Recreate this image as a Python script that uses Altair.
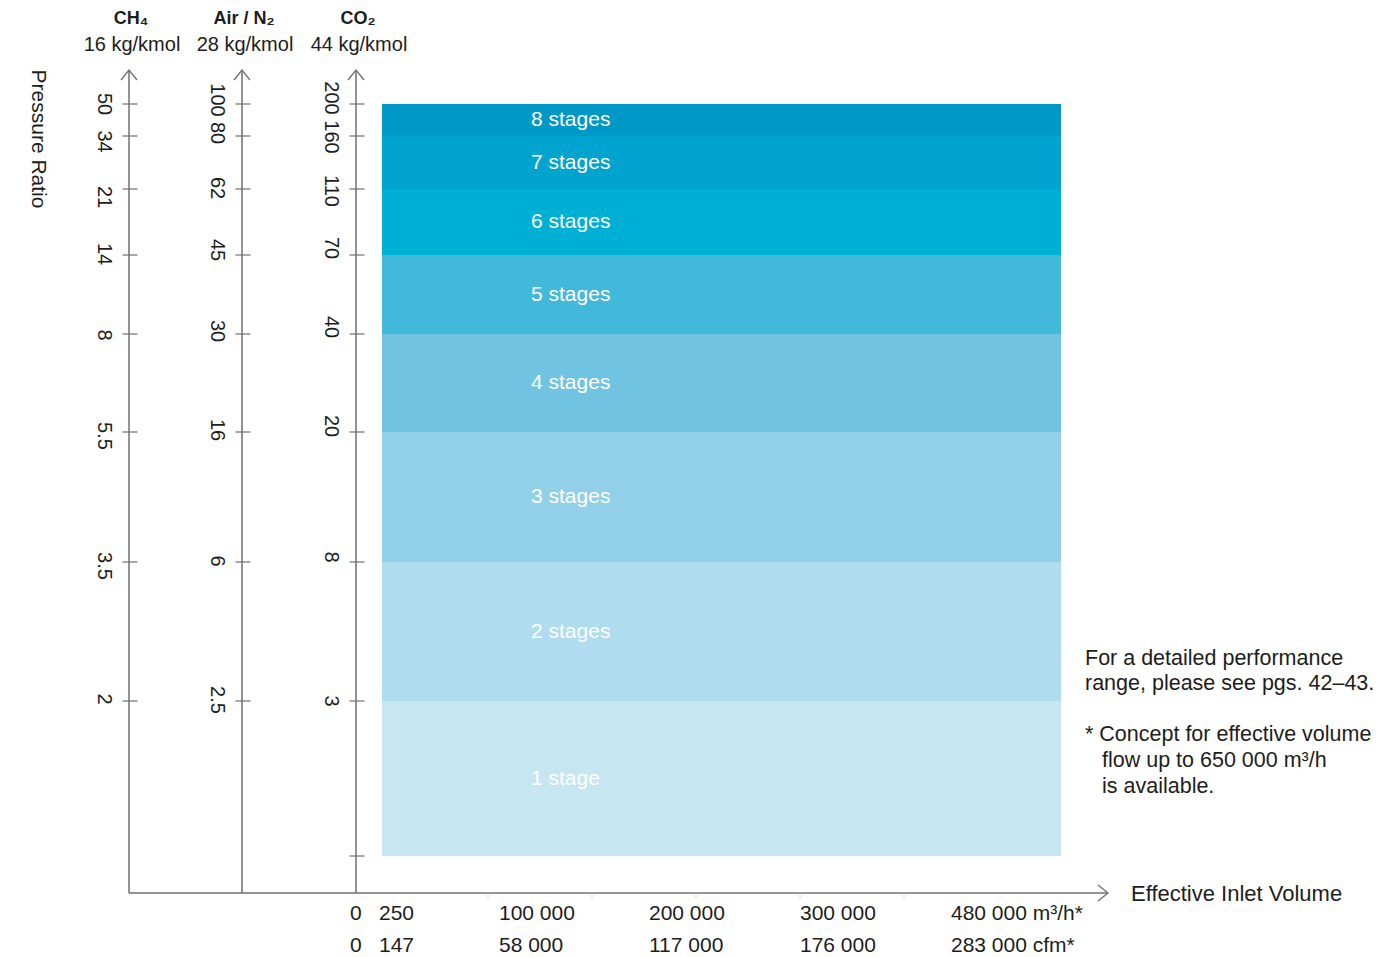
import altair as alt
import pandas as pd

# ---------------- data ----------------
stages = ["1 stage", "2 stages", "3 stages", "4 stages",
          "5 stages", "6 stages", "7 stages", "8 stages"]
stage_colors = ["#c6e6f2", "#afdcee", "#91d0e8", "#70c4e1",
                "#42b8da", "#00afd4", "#00a4cf", "#0099c6"]
# schematic pressure-ratio levels (stage boundaries), bottom -> top
levels = [37, 192, 331, 461, 559, 638, 704, 757, 789]
band_x = [26, 705]          # effective inlet volume span of the bands (schematic)
stage_label_x = 175

gases = ["CH₄", "Air / N₂", "CO₂"]
molar = ["16 kg/kmol", "28 kg/kmol", "44 kg/kmol"]
gas_axis_x = [-227, -114, 0]
axis_top = 823
xaxis_end = 752

ch4_ticks = ["2", "3.5", "5.5", "8", "14", "21", "34", "50"]
air_ticks = ["2.5", "6", "16", "30", "45", "62", "80", "100"]
co2_ticks = ["3", "8", "20", "40", "70", "110", "160", "200"]
ch4_label_y = [194, 327, 457, 558, 639, 696, 751.5, 789]
air_label_y = [193, 332, 463, 562, 643, 705, 760, 793]
co2_label_y = [192, 336, 467, 566, 645, 702, 756, 795]

vol_m3h = ["0", "250", "100 000", "200 000", "300 000", "480 000 m³/h*"]
vol_cfm = ["0", "147", "58 000", "117 000", "176 000", "283 000 cfm*"]
vol_label_x = [-6, 23, 143, 293, 444, 595]
vol_rows_y = [-21, -53]
minor_x = [132, 236, 340, 444, 548]

notes = ["For a detailed performance", "range, please see pgs. 42–43.",
         "* Concept for effective volume", "flow up to 650 000 m³/h", "is available."]
notes_x = [729, 729, 729, 746, 746]
notes_y = [234, 209, 158, 132, 106]

# ---------------- scales ----------------
FONT = "Liberation Sans"
TXT = "#1d1d1b"
AX = "#6f6f6f"
xs = alt.Scale(domain=[-348, 1032], nice=False, zero=False)
ys = alt.Scale(domain=[-64, 885], nice=False, zero=False)


def X(f="x"):
    return alt.X(f"{f}:Q", scale=xs, axis=None)


def Y(f="y"):
    return alt.Y(f"{f}:Q", scale=ys, axis=None)


# bands
bands = pd.DataFrame({
    "stage": stages,
    "x": band_x[0], "x2": band_x[1],
    "y": levels[:-1], "y2": levels[1:],
    "color": stage_colors,
    "ym": [(a + b) / 2 for a, b in zip(levels[:-1], levels[1:])],
    "lx": stage_label_x,
})
rects = alt.Chart(bands).mark_rect(strokeWidth=0).encode(
    x=X(), x2="x2:Q", y=Y(), y2="y2:Q",
    color=alt.Color("color:N", scale=None))
stage_text = alt.Chart(bands).mark_text(
    align="left", baseline="middle", font=FONT, fontSize=21, color="white"
).encode(x=X("lx"), y=Y("ym"), text="stage:N")

# axis lines
vlines = pd.DataFrame({"x": gas_axis_x, "y": 0, "y2": axis_top})
vrules = alt.Chart(vlines).mark_rule(color=AX, strokeWidth=1.5).encode(
    x=X(), y=Y(), y2="y2:Q")
hline = pd.DataFrame({"x": [gas_axis_x[0]], "x2": [xaxis_end], "y": [0]})
hrule = alt.Chart(hline).mark_rule(color=AX, strokeWidth=1.5).encode(
    x=X(), x2="x2:Q", y=Y())

# arrowheads
up = alt.Chart(pd.DataFrame({"x": gas_axis_x, "y": axis_top})).mark_point(
    shape="M-1,1.25L0,0L1,1.25", filled=False, size=256, strokeWidth=1.3,
    color=AX, opacity=1).encode(x=X(), y=Y())
right = alt.Chart(pd.DataFrame({"x": [xaxis_end], "y": [0]})).mark_point(
    shape="M-1.25,-1L0,0L-1.25,1", filled=False, size=256, strokeWidth=1.3,
    color=AX, opacity=1).encode(x=X(), y=Y())

# ticks on gas axes
tick_rows = []
for gx, labs, ly in [(gas_axis_x[0], ch4_ticks, ch4_label_y),
                     (gas_axis_x[1], air_ticks, air_label_y),
                     (gas_axis_x[2], co2_ticks, co2_label_y)]:
    for lev, lab, yy in zip(levels[1:], labs, ly):
        tick_rows.append({"x": gx, "y": lev, "label": lab, "ly": yy})
ticks_df = pd.DataFrame(tick_rows)
extra_tick = pd.DataFrame({"x": [gas_axis_x[2]], "y": [levels[0]]})
ticks = alt.Chart(pd.concat([ticks_df[["x", "y"]], extra_tick])).mark_tick(
    orient="horizontal", size=15, thickness=1.2, color=AX, xOffset=1, opacity=1
).encode(x=X(), y=Y())
tick_labels = alt.Chart(ticks_df).mark_text(
    angle=90, align="center", baseline="middle", font=FONT, fontSize=20,
    color=TXT, xOffset=-25).encode(x=X(), y=Y("ly"), text="label:N")

# minor ticks on x axis
minor = alt.Chart(pd.DataFrame({"x": minor_x, "y": 0})).mark_tick(
    orient="vertical", size=5, thickness=1, color="#d6d6d6", yOffset=3, opacity=1
).encode(x=X(), y=Y())

# headers
hdr = pd.DataFrame({"x": gas_axis_x, "gas": gases, "mass": molar,
                    "yg": 874, "ym": 848})
gas_text = alt.Chart(hdr).mark_text(
    align="center", baseline="middle", font=FONT, fontSize=18,
    fontWeight="bold", color=TXT, xOffset=2).encode(x=X(), y=Y("yg"), text="gas:N")
mass_text = alt.Chart(hdr).mark_text(
    align="center", baseline="middle", font=FONT, fontSize=20,
    color=TXT, xOffset=3).encode(x=X(), y=Y("ym"), text="mass:N")

pr = alt.Chart(pd.DataFrame({"x": [-318], "y": [754], "t": ["Pressure Ratio"]})).mark_text(
    angle=90, align="center", baseline="middle", font=FONT, fontSize=21, color=TXT
).encode(x=X(), y=Y(), text="t:N")

# x labels
vol_df = pd.DataFrame({
    "x": vol_label_x * 2,
    "y": [vol_rows_y[0]] * len(vol_m3h) + [vol_rows_y[1]] * len(vol_cfm),
    "t": vol_m3h + vol_cfm})
vol_text = alt.Chart(vol_df).mark_text(
    align="left", baseline="middle", font=FONT, fontSize=21, color=TXT
).encode(x=X(), y=Y(), text="t:N")

eiv = alt.Chart(pd.DataFrame({"x": [775], "y": [-1], "t": ["Effective Inlet Volume"]})).mark_text(
    align="left", baseline="middle", font=FONT, fontSize=22, color=TXT
).encode(x=X(), y=Y(), text="t:N")

notes_df = pd.DataFrame({"x": notes_x, "y": notes_y, "t": notes})
notes_text = alt.Chart(notes_df).mark_text(
    align="left", baseline="middle", font=FONT, fontSize=21.5, color=TXT
).encode(x=X(), y=Y(), text="t:N")

chart = alt.layer(
    rects, stage_text, vrules, hrule, minor, up, right, ticks, tick_labels,
    gas_text, mass_text, pr, vol_text, eiv, notes_text
).properties(
    width=1380, height=949,
    autosize=alt.AutoSizeParams(type="none"), padding=0
).configure_view(stroke=None)

chart.save("out.html", embed_options={"renderer": "svg", "actions": False})
